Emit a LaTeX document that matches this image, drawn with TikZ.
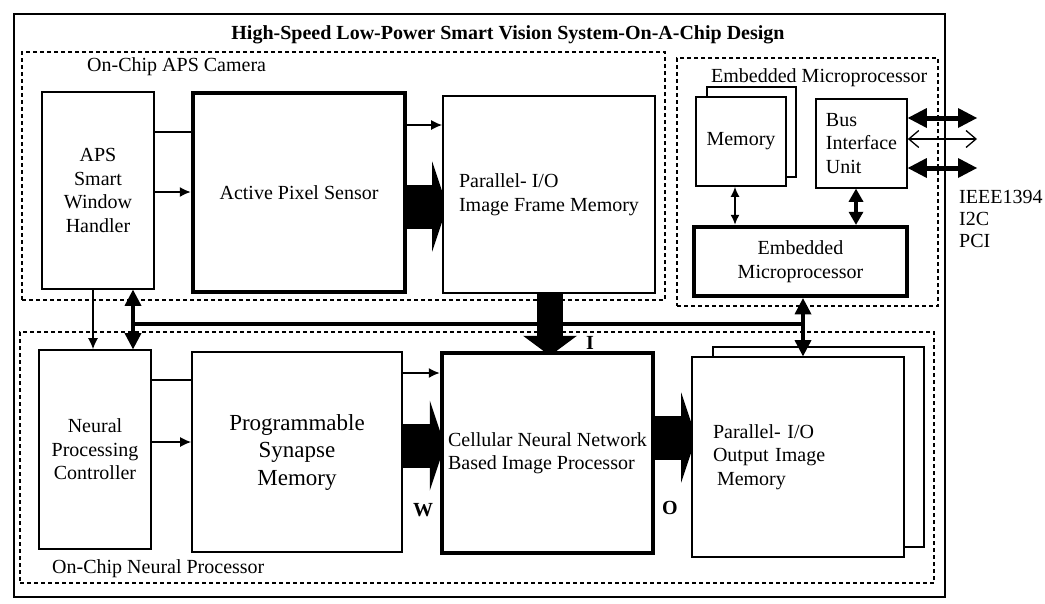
\documentclass[tikz,border=0pt]{standalone}
\usepackage{fontspec}
\setmainfont{Liberation Serif}
\usetikzlibrary{
  positioning,
  calc,
  arrows.meta
}
\pgfdeclarelayer{bg}
\pgfsetlayers{bg,main}
\newcommand{\txtsize}{\fontsize{20}{23.5}\selectfont}

\begin{document}
\begin{tikzpicture}[x=1pt, y=-1pt,
    blk/.style={draw, line width=1.6pt, fill=white, inner sep=2pt, align=center, font=\txtsize},
    thickblk/.style={blk, line width=4.5pt},
    region/.style={draw, line width=1.3pt, dash pattern=on 4pt off 3pt, inner sep=0pt},
    lbl/.style={font=\txtsize, inner sep=1pt},
    sig/.style={font=\bfseries\txtsize, inner sep=1pt},
    conn/.style={line width=1.5pt},
    arr/.style={conn, -{Latex[length=11pt, width=10pt]}},
    fatarr/.style={line width=44pt, shorten >=-5pt, -{Triangle[length=15pt, width=90pt, line width=0pt]}},
    fatdown/.style={line width=26pt, shorten >=-5pt, -{Triangle[length=20pt, width=54pt, line width=0pt]}},
    busarr/.style={line width=4pt, {Triangle[length=16pt, width=17pt, line width=0pt]}-{Triangle[length=16pt, width=17pt, line width=0pt]}},
    duparr/.style={line width=4pt, {Triangle[length=13pt, width=15pt, line width=0pt]}-{Triangle[length=13pt, width=15pt, line width=0pt]}},
    extfat/.style={line width=5pt, {Triangle[length=19pt, width=20pt, line width=0pt]}-{Triangle[length=19pt, width=20pt, line width=0pt]}},
    extthin/.style={line width=1.3pt, {Straight Barb[length=10pt, width=17pt]}-{Straight Barb[length=10pt, width=17pt]}}
  ]
  \useasboundingbox (0,0) rectangle (1045,603);

  % Chip frame and title
  \node[draw, line width=1.6pt, minimum width=931pt, minimum height=583pt, inner sep=0pt] (chip) at (479.5,305.5) {};
  \node[font=\bfseries\txtsize] (title) at (508,35) {High-Speed Low-Power Smart Vision System-On-A-Chip Design};

  % Dashed regions
  \node[region, minimum width=643pt, minimum height=248pt] (camreg) at (343.5,176) {};
  \node[region, minimum width=261pt, minimum height=248pt] (mpreg) at (807.5,182) {};
  \node[region, minimum width=914pt, minimum height=251pt] (npreg) at (477,457.5) {};
  \node[lbl, anchor=west] (camlbl) at (86,67) {On-Chip APS Camera};
  \node[lbl, anchor=west] (mplbl) at (710,78) {Embedded Microprocessor};
  \node[lbl, anchor=west] (nplbl) at (51,569) {On-Chip Neural Processor};

  % APS camera
  \node[blk, minimum width=112pt, minimum height=197pt] (handler) at (98,190.5) {APS\\Smart\\Window\\Handler};
  \node[thickblk, minimum width=212pt, minimum height=199pt] (aps) at (299,192.5) {Active Pixel Sensor};
  \node[blk, minimum width=212pt, minimum height=197pt, align=left] (frame) at (549,194.5) {Parallel- I/O\\Image Frame Memory};

  % Embedded microprocessor
  \node[blk, minimum width=89pt, minimum height=90pt] (memback) at (751.5,132) {};
  \node[blk, minimum width=90pt, minimum height=89pt] (mem) at (741,141.5) {Memory};
  \node[blk, minimum width=91pt, minimum height=89pt, align=left] (biu) at (861.5,143.5) {Bus\\Interface\\Unit};
  \node[thickblk, minimum width=213pt, minimum height=69pt] (emp) at (800.5,261.5) {Embedded\\Microprocessor};
  \node[lbl, anchor=west, align=left, font={\fontsize{20}{22}\selectfont}] (buses) at (958,219) {IEEE1394\\I2C\\PCI};

  % Neural processor
  \node[blk, minimum width=112pt, minimum height=199pt] (ctrl) at (95,449.5) {Neural\\Processing\\Controller};
  \node[blk, minimum width=210pt, minimum height=200pt, font={\fontsize{23}{27.5}\selectfont}] (psm) at (297,452) {Programmable\\Synapse\\Memory};
  \node[thickblk, minimum width=211pt, minimum height=200pt, align=left] (cnn) at (547.5,453) {Cellular Neural Network\\Based Image Processor};
  \node[blk, minimum width=211pt, minimum height=200pt] (outback) at (818.5,447) {};
  \node[blk, minimum width=212pt, minimum height=200pt, text width=170pt, align=left] (outmem) at (798,457) {Parallel- I/O\\Output Image\\\hspace*{4pt}Memory};

  % Signal names
  \node[sig] (ilbl) at (590,343) {I};
  \node[sig] (wlbl) at (423,510) {W};
  \node[sig] (olbl) at (670,508) {O};

  % Wide data paths, tips hidden under the boxes
  \begin{pgfonlayer}{bg}
    \draw[fatarr] (aps.east |- 0,206.5) -- (frame.west |- 0,206.5);
    \draw[fatdown] (frame.south -| 550,0) -- (cnn.north -| 550,0);
    \draw[fatarr] (psm.east |- 0,445.5) -- (cnn.west |- 0,445.5);
    \draw[fatarr] (cnn.east |- 0,437.5) -- (outmem.west |- 0,437.5);
  \end{pgfonlayer}

  % Camera connections
  \draw[conn] (handler.east |- 0,132) -- (aps.west |- 0,132);
  \draw[arr] (handler.east |- 0,192) -- (aps.west |- 0,192);
  \draw[arr] (aps.east |- 0,125) -- (frame.west |- 0,125);

  % System bus
  \coordinate (busL) at (133,324);
  \coordinate (busR) at (803,324);
  \draw[line width=4pt] (busL) -- (busR);
  \draw[busarr] (handler.south -| busL) -- (ctrl.north -| busL);
  \draw[busarr] (emp.south -| busR) -- (outmem.north -| busR);
  \draw[arr] (handler.south -| 93,0) -- (ctrl.north -| 93,0);

  % Neural processor connections
  \draw[conn] (ctrl.east |- 0,380) -- (psm.west |- 0,380);
  \draw[arr] (ctrl.east |- 0,442) -- (psm.west |- 0,442);
  \draw[arr] (psm.east |- 0,373) -- (cnn.west |- 0,373);

  % Microprocessor connections
  \draw[conn, {Latex[length=10pt, width=9pt]}-{Latex[length=10pt, width=9pt]}] (mem.south -| 735,0) -- (emp.north -| 735,0);
  \draw[duparr] (biu.south -| 856,0) -- (emp.north -| 856,0);
  \coordinate (ext1) at (977,118);
  \coordinate (ext2) at (977,139);
  \coordinate (ext3) at (977,168);
  \draw[extfat] (biu.east |- ext1) -- (ext1);
  \draw[extthin] (biu.east |- ext2) -- (ext2);
  \draw[extfat] (biu.east |- ext3) -- (ext3);
\end{tikzpicture}
\end{document}
